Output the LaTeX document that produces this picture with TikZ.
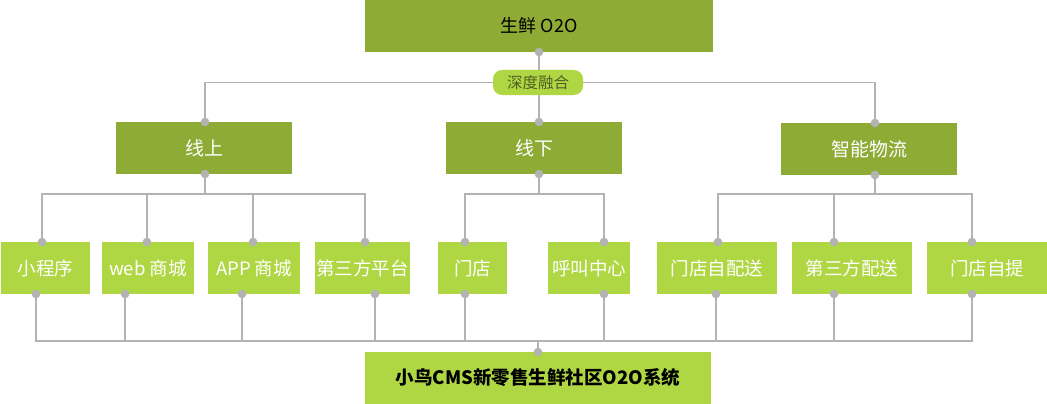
\documentclass[tikz,border=0pt]{standalone}
\usepackage{fontspec}
\setmainfont{Noto Sans CJK SC}
\definecolor{dkgreen}{HTML}{8DAB35}
\definecolor{ltgreen}{HTML}{AFD743}
\definecolor{linegray}{HTML}{B3B3B3}
\definecolor{pilltext}{HTML}{4F5F22}
\tikzset{
  darkbox/.style={fill=dkgreen, draw=none, minimum height=52pt, inner sep=0pt, text=white, font=\fontsize{19}{22}\selectfont},
  lightbox/.style={fill=ltgreen, draw=none, minimum height=52pt, inner sep=0pt, text=white, font=\fontsize{18.5}{22}\selectfont},
  pillbox/.style={fill=ltgreen, draw=none, rounded corners=9pt, minimum width=90pt, minimum height=25pt, inner sep=0pt, text=pilltext, font=\fontsize{15.5}{18}\selectfont},
  conn/.style={draw=linegray, line width=1.1pt},
  dotmark/.style={fill=linegray}
}
\begin{document}
\begin{tikzpicture}[x=1pt,y=-1pt]
\useasboundingbox[fill=white] (0,0) rectangle (1047,404);
% top
\node[darkbox, minimum width=348pt, text=black, font=\fontsize{18}{21}\selectfont] (top) at (539,26) {生鲜 O2O};
\node[pillbox] (pill) at (538,82.5) {深度融合};
% level 2
\node[darkbox, minimum width=176pt] (xs) at (204,148) {线上};
\node[darkbox, minimum width=176pt] (xx) at (534,148) {线下};
\node[darkbox, minimum width=176pt] (zn) at (869,149) {智能物流};
% level 3
\node[lightbox, minimum width=89pt] (c1) at (45.5,268) {小程序};
\node[lightbox, minimum width=92pt] (c2) at (148,268) {web 商城};
\node[lightbox, minimum width=92pt] (c3) at (254,268) {APP 商城};
\node[lightbox, minimum width=95pt] (c4) at (362.5,268) {第三方平台};
\node[lightbox, minimum width=69pt] (c5) at (472.5,268) {门店};
\node[lightbox, minimum width=82pt] (c6) at (589,268) {呼叫中心};
\node[lightbox, minimum width=120pt] (c7) at (717,268) {门店自配送};
\node[lightbox, minimum width=120pt] (c8) at (852,268) {第三方配送};
\node[lightbox, minimum width=120pt] (c9) at (987,268) {门店自提};
% bottom
\node[lightbox, minimum width=346pt, text=black, font=\fontsize{18.5}{22}\selectfont\bfseries] (bot) at (538,378) {小鸟CMS新零售生鲜社区O2O系统};
% dot coordinates
\coordinate (top-b) at (539,52);
\coordinate (xs-t) at (205,122);
\coordinate (xs-b) at (205,174);
\coordinate (xs-j) at (205,194);
\coordinate (xx-t) at (539,122);
\coordinate (xx-b) at (539,174);
\coordinate (xx-j) at (539,194);
\coordinate (zn-t) at (875,123);
\coordinate (zn-b) at (875,175);
\coordinate (zn-j) at (875,194);
\coordinate (c1-t) at (42,242);  \coordinate (c1-b) at (36,294);
\coordinate (c2-t) at (147,242); \coordinate (c2-b) at (125,294);
\coordinate (c3-t) at (253,242); \coordinate (c3-b) at (242,294);
\coordinate (c4-t) at (365,242); \coordinate (c4-b) at (375,294);
\coordinate (c5-t) at (465,242); \coordinate (c5-b) at (465,294);
\coordinate (c6-t) at (604,242); \coordinate (c6-b) at (604,294);
\coordinate (c7-t) at (718,242); \coordinate (c7-b) at (716,294);
\coordinate (c8-t) at (834,242); \coordinate (c8-b) at (834,294);
\coordinate (c9-t) at (972,242); \coordinate (c9-b) at (972,294);
\coordinate (bot-t) at (538,352);
\coordinate (bot-j) at (538,341);
% connectors
\draw[conn] (top-b) -- (top-b |- pill.north);
\draw[conn] (xx-t |- pill.south) -- (xx-t);
\draw[conn] (xs-t) |- (pill.west);
\draw[conn] (zn-t) |- (pill.east);
\draw[conn] (xs-b) -- (xs-j);
\draw[conn] (xx-b) -- (xx-j);
\draw[conn] (zn-b) -- (zn-j);
\draw[conn] (c1-t) |- (xs-j);
\draw[conn] (c2-t) |- (xs-j);
\draw[conn] (c3-t) |- (xs-j);
\draw[conn] (c4-t) |- (xs-j);
\draw[conn] (c5-t) |- (xx-j);
\draw[conn] (c6-t) |- (xx-j);
\draw[conn] (c7-t) |- (zn-j);
\draw[conn] (c8-t) |- (zn-j);
\draw[conn] (c9-t) |- (zn-j);
\foreach \i in {1,...,9} {\draw[conn] (c\i-b) |- (bot-j);}
\draw[conn] (bot-j) -- (bot-t);
% dots
\foreach \p in {top-b,xs-t,xs-b,xx-t,xx-b,zn-t,zn-b,c1-t,c1-b,c2-t,c2-b,c3-t,c3-b,c4-t,c4-b,c5-t,c5-b,c6-t,c6-b,c7-t,c7-b,c8-t,c8-b,c9-t,c9-b,bot-t}
  {\fill[dotmark] (\p) circle (4.3pt);}
\end{tikzpicture}
\end{document}
